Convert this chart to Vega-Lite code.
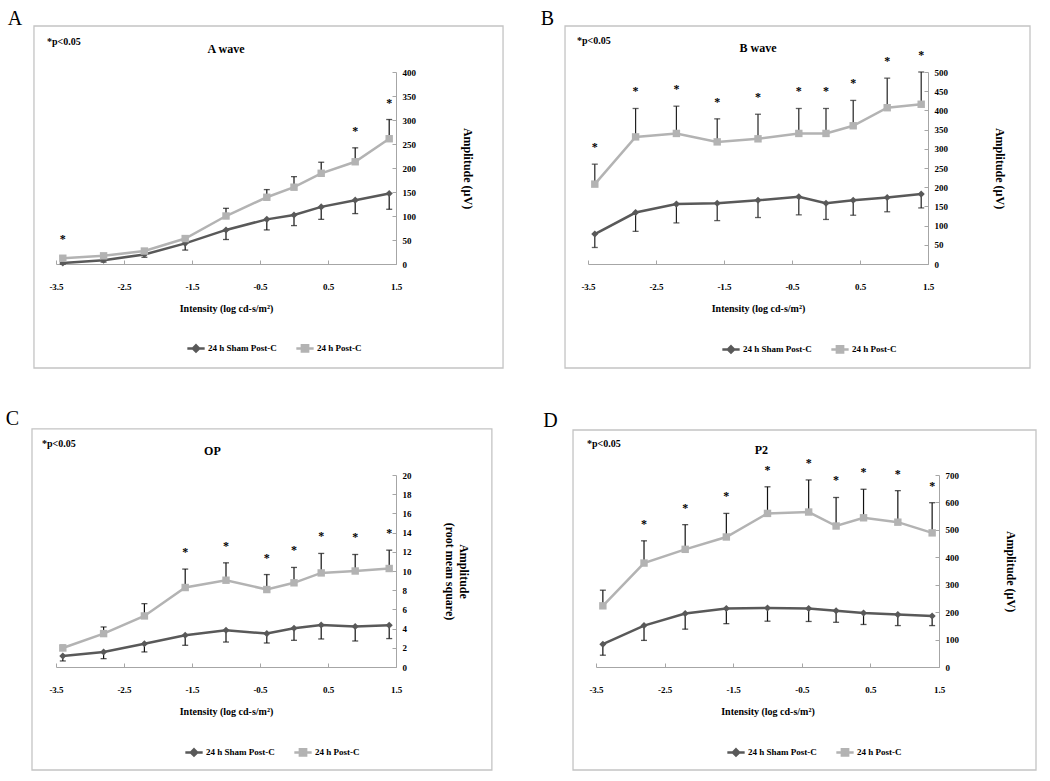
{
  "$schema": "https://vega.github.io/schema/vega-lite/v6.json",
  "padding": {"left": 5, "top": 8, "right": 5, "bottom": 5},
  "background": "white",
  "datasets": {
    "A": [
      {"series": "24 h Sham Post-C", "x": -3.4, "amp": 2, "bar_end": 0, "star": false},
      {"series": "24 h Sham Post-C", "x": -2.8, "amp": 8, "bar_end": 4, "star": false},
      {"series": "24 h Sham Post-C", "x": -2.2, "amp": 20, "bar_end": 14, "star": false},
      {"series": "24 h Sham Post-C", "x": -1.6, "amp": 43, "bar_end": 29, "star": false},
      {"series": "24 h Sham Post-C", "x": -1.0, "amp": 71, "bar_end": 51, "star": false},
      {"series": "24 h Sham Post-C", "x": -0.4, "amp": 93, "bar_end": 71, "star": false},
      {"series": "24 h Sham Post-C", "x": 0, "amp": 102, "bar_end": 80, "star": false},
      {"series": "24 h Sham Post-C", "x": 0.4, "amp": 119, "bar_end": 93, "star": false},
      {"series": "24 h Sham Post-C", "x": 0.9, "amp": 133, "bar_end": 105, "star": false},
      {"series": "24 h Sham Post-C", "x": 1.4, "amp": 147, "bar_end": 114, "star": false},
      {"series": "24 h Post-C", "x": -3.4, "amp": 12, "bar_end": 16, "star": true},
      {"series": "24 h Post-C", "x": -2.8, "amp": 17, "bar_end": 21, "star": false},
      {"series": "24 h Post-C", "x": -2.2, "amp": 27, "bar_end": 32, "star": false},
      {"series": "24 h Post-C", "x": -1.6, "amp": 53, "bar_end": 59, "star": false},
      {"series": "24 h Post-C", "x": -1.0, "amp": 100, "bar_end": 116, "star": false},
      {"series": "24 h Post-C", "x": -0.4, "amp": 139, "bar_end": 155, "star": false},
      {"series": "24 h Post-C", "x": 0, "amp": 160, "bar_end": 182, "star": false},
      {"series": "24 h Post-C", "x": 0.4, "amp": 189, "bar_end": 212, "star": false},
      {"series": "24 h Post-C", "x": 0.9, "amp": 213, "bar_end": 242, "star": true},
      {"series": "24 h Post-C", "x": 1.4, "amp": 261, "bar_end": 301, "star": true}
    ],
    "B": [
      {"series": "24 h Sham Post-C", "x": -3.4, "amp": 78, "bar_end": 43, "star": false},
      {"series": "24 h Sham Post-C", "x": -2.8, "amp": 134, "bar_end": 85, "star": false},
      {"series": "24 h Sham Post-C", "x": -2.2, "amp": 156, "bar_end": 107, "star": false},
      {"series": "24 h Sham Post-C", "x": -1.6, "amp": 158, "bar_end": 113, "star": false},
      {"series": "24 h Sham Post-C", "x": -1.0, "amp": 166, "bar_end": 121, "star": false},
      {"series": "24 h Sham Post-C", "x": -0.4, "amp": 175, "bar_end": 128, "star": false},
      {"series": "24 h Sham Post-C", "x": 0, "amp": 158, "bar_end": 116, "star": false},
      {"series": "24 h Sham Post-C", "x": 0.4, "amp": 166, "bar_end": 127, "star": false},
      {"series": "24 h Sham Post-C", "x": 0.9, "amp": 173, "bar_end": 136, "star": false},
      {"series": "24 h Sham Post-C", "x": 1.4, "amp": 182, "bar_end": 146, "star": false},
      {"series": "24 h Post-C", "x": -3.4, "amp": 208, "bar_end": 260, "star": true},
      {"series": "24 h Post-C", "x": -2.8, "amp": 331, "bar_end": 405, "star": true},
      {"series": "24 h Post-C", "x": -2.2, "amp": 340, "bar_end": 411, "star": true},
      {"series": "24 h Post-C", "x": -1.6, "amp": 318, "bar_end": 378, "star": true},
      {"series": "24 h Post-C", "x": -1.0, "amp": 326, "bar_end": 390, "star": true},
      {"series": "24 h Post-C", "x": -0.4, "amp": 340, "bar_end": 405, "star": true},
      {"series": "24 h Post-C", "x": 0, "amp": 340, "bar_end": 405, "star": true},
      {"series": "24 h Post-C", "x": 0.4, "amp": 360, "bar_end": 426, "star": true},
      {"series": "24 h Post-C", "x": 0.9, "amp": 407, "bar_end": 484, "star": true},
      {"series": "24 h Post-C", "x": 1.4, "amp": 416, "bar_end": 500, "star": true}
    ],
    "C": [
      {"series": "24 h Sham Post-C", "x": -3.4, "amp": 1.15, "bar_end": 0.63, "star": false},
      {"series": "24 h Sham Post-C", "x": -2.8, "amp": 1.57, "bar_end": 0.87, "star": false},
      {"series": "24 h Sham Post-C", "x": -2.2, "amp": 2.43, "bar_end": 1.57, "star": false},
      {"series": "24 h Sham Post-C", "x": -1.6, "amp": 3.3, "bar_end": 2.26, "star": false},
      {"series": "24 h Sham Post-C", "x": -1.0, "amp": 3.83, "bar_end": 2.6, "star": false},
      {"series": "24 h Sham Post-C", "x": -0.4, "amp": 3.48, "bar_end": 2.5, "star": false},
      {"series": "24 h Sham Post-C", "x": 0, "amp": 4.03, "bar_end": 2.78, "star": false},
      {"series": "24 h Sham Post-C", "x": 0.4, "amp": 4.38, "bar_end": 2.92, "star": false},
      {"series": "24 h Sham Post-C", "x": 0.9, "amp": 4.21, "bar_end": 2.71, "star": false},
      {"series": "24 h Sham Post-C", "x": 1.4, "amp": 4.35, "bar_end": 2.96, "star": false},
      {"series": "24 h Post-C", "x": -3.4, "amp": 1.98, "bar_end": 2.26, "star": false},
      {"series": "24 h Post-C", "x": -2.8, "amp": 3.48, "bar_end": 4.17, "star": false},
      {"series": "24 h Post-C", "x": -2.2, "amp": 5.32, "bar_end": 6.6, "star": false},
      {"series": "24 h Post-C", "x": -1.6, "amp": 8.28, "bar_end": 10.2, "star": true},
      {"series": "24 h Post-C", "x": -1.0, "amp": 9.04, "bar_end": 10.85, "star": true},
      {"series": "24 h Post-C", "x": -0.4, "amp": 8.07, "bar_end": 9.63, "star": true},
      {"series": "24 h Post-C", "x": 0, "amp": 8.77, "bar_end": 10.37, "star": true},
      {"series": "24 h Post-C", "x": 0.4, "amp": 9.8, "bar_end": 11.83, "star": true},
      {"series": "24 h Post-C", "x": 0.9, "amp": 10.0, "bar_end": 11.72, "star": true},
      {"series": "24 h Post-C", "x": 1.4, "amp": 10.26, "bar_end": 12.17, "star": true}
    ],
    "D": [
      {"series": "24 h Sham Post-C", "x": -3.4, "amp": 83, "bar_end": 43, "star": false},
      {"series": "24 h Sham Post-C", "x": -2.8, "amp": 151, "bar_end": 97, "star": false},
      {"series": "24 h Sham Post-C", "x": -2.2, "amp": 195, "bar_end": 138, "star": false},
      {"series": "24 h Sham Post-C", "x": -1.6, "amp": 213, "bar_end": 158, "star": false},
      {"series": "24 h Sham Post-C", "x": -1.0, "amp": 215, "bar_end": 167, "star": false},
      {"series": "24 h Sham Post-C", "x": -0.4, "amp": 213, "bar_end": 166, "star": false},
      {"series": "24 h Sham Post-C", "x": 0, "amp": 205, "bar_end": 163, "star": false},
      {"series": "24 h Sham Post-C", "x": 0.4, "amp": 197, "bar_end": 155, "star": false},
      {"series": "24 h Sham Post-C", "x": 0.9, "amp": 191, "bar_end": 151, "star": false},
      {"series": "24 h Sham Post-C", "x": 1.4, "amp": 186, "bar_end": 151, "star": false},
      {"series": "24 h Post-C", "x": -3.4, "amp": 223, "bar_end": 280, "star": false},
      {"series": "24 h Post-C", "x": -2.8, "amp": 379, "bar_end": 460, "star": true},
      {"series": "24 h Post-C", "x": -2.2, "amp": 429, "bar_end": 519, "star": true},
      {"series": "24 h Post-C", "x": -1.6, "amp": 474, "bar_end": 560, "star": true},
      {"series": "24 h Post-C", "x": -1.0, "amp": 560, "bar_end": 657, "star": true},
      {"series": "24 h Post-C", "x": -0.4, "amp": 565, "bar_end": 682, "star": true},
      {"series": "24 h Post-C", "x": 0, "amp": 514, "bar_end": 618, "star": true},
      {"series": "24 h Post-C", "x": 0.4, "amp": 544, "bar_end": 648, "star": true},
      {"series": "24 h Post-C", "x": 0.9, "amp": 528, "bar_end": 643, "star": true},
      {"series": "24 h Post-C", "x": 1.4, "amp": 489, "bar_end": 599, "star": true}
    ]
  },
  "spacing": 403,
  "bounds": "flush",
  "resolve": {"scale": {"color": "independent"}, "legend": {"color": "independent"}},
  "vconcat": [
    {
      "spacing": 192,
      "bounds": "flush",
      "resolve": {"scale": {"color": "independent"}, "legend": {"color": "independent"}},
      "hconcat": [
        {
          "width": 340, "height": 192,
          "data": {"name": "A"},
          "layer": [
            {"data": {"values": [{"part": "frame"}]}, "mark": {"type": "rect", "fill": null, "stroke": "#c4c4c4", "strokeWidth": 1.3},
             "encoding": {"x": {"datum": -3.824, "type": "quantitative"}, "x2": {"datum": 3.074}, "y": {"datum": 495.8, "type": "quantitative"}, "y2": {"datum": -216.7}}},
            {"mark": {"type": "rule", "color": "#111111", "strokeWidth": 1.2},
             "encoding": {"x": {"field": "x", "type": "quantitative"}, "y": {"field": "amp", "type": "quantitative"}, "y2": {"field": "bar_end"}}},
            {"mark": {"type": "tick", "orient": "horizontal", "color": "#111111", "size": 6, "thickness": 1.3},
             "encoding": {"x": {"field": "x", "type": "quantitative"}, "y": {"field": "bar_end", "type": "quantitative"}}},
            {"mark": {"type": "line", "strokeWidth": 2.5},
             "encoding": {
               "x": {"field": "x", "type": "quantitative", "scale": {"domain": [-3.5, 1.5], "nice": false, "zero": false},
                     "axis": {"values": [-3.5, -2.5, -1.5, -0.5, 0.5, 1.5], "tickCount": 20, "format": ".1f", "labelExpr": "replace(datum.label, '\u2212', '-')", "title": "Intensity (log cd-s/m²)"}},
               "y": {"field": "amp", "type": "quantitative", "scale": {"domain": [0, 400], "nice": false, "zero": false},
                     "axis": {"orient": "right", "values": [0, 50, 100, 150, 200, 250, 300, 350, 400], "tickCount": 20, "format": "d", "title": "Amplitude (µV)", "labelBaseline": "middle"}},
               "color": {"field": "series", "type": "nominal", "scale": {"domain": ["24 h Sham Post-C", "24 h Post-C"], "range": ["#595959", "#b3b3b3"]},
                         "legend": {"orient": "none", "legendX": 130, "legendY": 266, "direction": "horizontal", "title": null, "symbolSize": 300, "columnPadding": 14, "labelOffset": 2,
                                    "labelFont": "Liberation Serif", "labelFontWeight": "bold", "labelFontSize": 9,
                                    "encode": {"symbols": {"update": {
                                      "shape": {"signal": "datum.value === '24 h Sham Post-C' ? 'M-1,0H1M0,-0.36L0.36,0L0,0.36L-0.36,0Z' : 'M-1,0H1M-0.36,-0.36H0.36V0.36H-0.36Z'"},
                                      "fill": {"signal": "datum.value === '24 h Sham Post-C' ? '#595959' : '#b3b3b3'"},
                                      "stroke": {"signal": "datum.value === '24 h Sham Post-C' ? '#595959' : '#b3b3b3'"},
                                      "strokeWidth": {"value": 2.5}, "opacity": {"value": 1}, "fillOpacity": {"value": 1}}}}}}
             }},
            {"transform": [{"filter": "datum.series === '24 h Sham Post-C'"}], "mark": {"type": "point", "shape": "diamond", "filled": true, "opacity": 1, "size": 50},
             "encoding": {"x": {"field": "x", "type": "quantitative"}, "y": {"field": "amp", "type": "quantitative"}, "color": {"field": "series", "type": "nominal"}}},
            {"transform": [{"filter": "datum.series === '24 h Post-C'"}], "mark": {"type": "point", "shape": "square", "filled": true, "opacity": 1, "size": 55},
             "encoding": {"x": {"field": "x", "type": "quantitative"}, "y": {"field": "amp", "type": "quantitative"}, "color": {"field": "series", "type": "nominal"}}},
            {"transform": [{"filter": "datum.star"}], "mark": {"type": "text", "text": "*", "dy": -17, "baseline": "middle", "fontSize": 12, "fontWeight": "bold", "font": "Liberation Serif", "color": "#000000"},
             "encoding": {"x": {"field": "x", "type": "quantitative"}, "y": {"field": "bar_end", "type": "quantitative"}}},
            {"data": {"values": [{"label": "A"}]}, "mark": {"type": "text", "fontSize": 20, "font": "Liberation Serif", "align": "center", "baseline": "alphabetic", "color": "#000000"},
             "encoding": {"x": {"datum": -4.103, "type": "quantitative"}, "y": {"datum": 498, "type": "quantitative"}, "text": {"field": "label"}}},
            {"data": {"values": [{"label": "*p<0.05"}]}, "mark": {"type": "text", "fontSize": 10, "fontWeight": "bold", "font": "Liberation Serif", "align": "left", "baseline": "alphabetic", "color": "#000000"},
             "encoding": {"x": {"datum": -3.632, "type": "quantitative"}, "y": {"datum": 456, "type": "quantitative"}, "text": {"field": "label"}}},
            {"data": {"values": [{"label": "A wave"}]}, "mark": {"type": "text", "fontSize": 12, "fontWeight": "bold", "font": "Liberation Serif", "align": "center", "baseline": "alphabetic", "color": "#000000"},
             "encoding": {"x": {"datum": -1.0, "type": "quantitative"}, "y": {"datum": 440, "type": "quantitative"}, "text": {"field": "label"}}}
          ]
        },
        {
          "width": 340, "height": 192,
          "data": {"name": "B"},
          "layer": [
            {"data": {"values": [{"part": "frame"}]}, "mark": {"type": "rect", "fill": null, "stroke": "#c4c4c4", "strokeWidth": 1.3},
             "encoding": {"x": {"datum": -3.838, "type": "quantitative"}, "x2": {"datum": 3.0}, "y": {"datum": 619.8, "type": "quantitative"}, "y2": {"datum": -270.8}}},
            {"mark": {"type": "rule", "color": "#222222", "strokeWidth": 1.2},
             "encoding": {"x": {"field": "x", "type": "quantitative"}, "y": {"field": "amp", "type": "quantitative"}, "y2": {"field": "bar_end"}}},
            {"mark": {"type": "tick", "orient": "horizontal", "color": "#222222", "size": 6, "thickness": 1.3},
             "encoding": {"x": {"field": "x", "type": "quantitative"}, "y": {"field": "bar_end", "type": "quantitative"}}},
            {"mark": {"type": "line", "strokeWidth": 2.5},
             "encoding": {
               "x": {"field": "x", "type": "quantitative", "scale": {"domain": [-3.5, 1.5], "nice": false, "zero": false},
                     "axis": {"values": [-3.5, -2.5, -1.5, -0.5, 0.5, 1.5], "tickCount": 20, "format": ".1f", "labelExpr": "replace(datum.label, '\u2212', '-')", "title": "Intensity (log cd-s/m²)"}},
               "y": {"field": "amp", "type": "quantitative", "scale": {"domain": [0, 500], "nice": false, "zero": false},
                     "axis": {"orient": "right", "values": [0, 50, 100, 150, 200, 250, 300, 350, 400, 450, 500], "tickCount": 20, "format": "d", "title": "Amplitude (µV)", "labelBaseline": "middle"}},
               "color": {"field": "series", "type": "nominal", "scale": {"domain": ["24 h Sham Post-C", "24 h Post-C"], "range": ["#595959", "#b3b3b3"]},
                         "legend": {"orient": "none", "legendX": 133, "legendY": 267, "direction": "horizontal", "title": null, "symbolSize": 300, "columnPadding": 14, "labelOffset": 2,
                                    "labelFont": "Liberation Serif", "labelFontWeight": "bold", "labelFontSize": 9,
                                    "encode": {"symbols": {"update": {
                                      "shape": {"signal": "datum.value === '24 h Sham Post-C' ? 'M-1,0H1M0,-0.36L0.36,0L0,0.36L-0.36,0Z' : 'M-1,0H1M-0.36,-0.36H0.36V0.36H-0.36Z'"},
                                      "fill": {"signal": "datum.value === '24 h Sham Post-C' ? '#595959' : '#b3b3b3'"},
                                      "stroke": {"signal": "datum.value === '24 h Sham Post-C' ? '#595959' : '#b3b3b3'"},
                                      "strokeWidth": {"value": 2.5}, "opacity": {"value": 1}, "fillOpacity": {"value": 1}}}}}}
             }},
            {"transform": [{"filter": "datum.series === '24 h Sham Post-C'"}], "mark": {"type": "point", "shape": "diamond", "filled": true, "opacity": 1, "size": 50},
             "encoding": {"x": {"field": "x", "type": "quantitative"}, "y": {"field": "amp", "type": "quantitative"}, "color": {"field": "series", "type": "nominal"}}},
            {"transform": [{"filter": "datum.series === '24 h Post-C'"}], "mark": {"type": "point", "shape": "square", "filled": true, "opacity": 1, "size": 55},
             "encoding": {"x": {"field": "x", "type": "quantitative"}, "y": {"field": "amp", "type": "quantitative"}, "color": {"field": "series", "type": "nominal"}}},
            {"transform": [{"filter": "datum.star"}], "mark": {"type": "text", "text": "*", "dy": -17, "baseline": "middle", "fontSize": 12, "fontWeight": "bold", "font": "Liberation Serif", "color": "#000000"},
             "encoding": {"x": {"field": "x", "type": "quantitative"}, "y": {"field": "bar_end", "type": "quantitative"}}},
            {"data": {"values": [{"label": "B"}]}, "mark": {"type": "text", "fontSize": 20, "font": "Liberation Serif", "align": "center", "baseline": "alphabetic", "color": "#000000"},
             "encoding": {"x": {"datum": -4.096, "type": "quantitative"}, "y": {"datum": 622, "type": "quantitative"}, "text": {"field": "label"}}},
            {"data": {"values": [{"label": "*p<0.05"}]}, "mark": {"type": "text", "fontSize": 10, "fontWeight": "bold", "font": "Liberation Serif", "align": "left", "baseline": "alphabetic", "color": "#000000"},
             "encoding": {"x": {"datum": -3.662, "type": "quantitative"}, "y": {"datum": 573, "type": "quantitative"}, "text": {"field": "label"}}},
            {"data": {"values": [{"label": "B wave"}]}, "mark": {"type": "text", "fontSize": 12, "fontWeight": "bold", "font": "Liberation Serif", "align": "center", "baseline": "alphabetic", "color": "#000000"},
             "encoding": {"x": {"datum": -1.0, "type": "quantitative"}, "y": {"datum": 552, "type": "quantitative"}, "text": {"field": "label"}}}
          ]
        }
      ]
    },
    {
      "spacing": 200,
      "bounds": "flush",
      "resolve": {"scale": {"color": "independent"}, "legend": {"color": "independent"}},
      "hconcat": [
        {
          "width": 340, "height": 192,
          "data": {"name": "C"},
          "layer": [
            {"data": {"values": [{"part": "frame"}]}, "mark": {"type": "rect", "fill": null, "stroke": "#c4c4c4", "strokeWidth": 1.3},
             "encoding": {"x": {"datum": -3.853, "type": "quantitative"}, "x2": {"datum": 2.91}, "y": {"datum": 24.8, "type": "quantitative"}, "y2": {"datum": -10.73}}},
            {"mark": {"type": "rule", "color": "#111111", "strokeWidth": 1.2},
             "encoding": {"x": {"field": "x", "type": "quantitative"}, "y": {"field": "amp", "type": "quantitative"}, "y2": {"field": "bar_end"}}},
            {"mark": {"type": "tick", "orient": "horizontal", "color": "#111111", "size": 6, "thickness": 1.3},
             "encoding": {"x": {"field": "x", "type": "quantitative"}, "y": {"field": "bar_end", "type": "quantitative"}}},
            {"mark": {"type": "line", "strokeWidth": 2.5},
             "encoding": {
               "x": {"field": "x", "type": "quantitative", "scale": {"domain": [-3.5, 1.5], "nice": false, "zero": false},
                     "axis": {"values": [-3.5, -2.5, -1.5, -0.5, 0.5, 1.5], "tickCount": 20, "format": ".1f", "labelExpr": "replace(datum.label, '\u2212', '-')", "title": "Intensity (log cd-s/m²)"}},
               "y": {"field": "amp", "type": "quantitative", "scale": {"domain": [0, 20], "nice": false, "zero": false},
                     "axis": {"orient": "right", "values": [0, 2, 4, 6, 8, 10, 12, 14, 16, 18, 20], "tickCount": 20, "format": "d", "title": ["Amplitude", "(root mean square)"], "titlePadding": 31, "labelBaseline": "middle"}},
               "color": {"field": "series", "type": "nominal", "scale": {"domain": ["24 h Sham Post-C", "24 h Post-C"], "range": ["#595959", "#b3b3b3"]},
                         "legend": {"orient": "none", "legendX": 128, "legendY": 267, "direction": "horizontal", "title": null, "symbolSize": 300, "columnPadding": 14, "labelOffset": 2,
                                    "labelFont": "Liberation Serif", "labelFontWeight": "bold", "labelFontSize": 9,
                                    "encode": {"symbols": {"update": {
                                      "shape": {"signal": "datum.value === '24 h Sham Post-C' ? 'M-1,0H1M0,-0.36L0.36,0L0,0.36L-0.36,0Z' : 'M-1,0H1M-0.36,-0.36H0.36V0.36H-0.36Z'"},
                                      "fill": {"signal": "datum.value === '24 h Sham Post-C' ? '#595959' : '#b3b3b3'"},
                                      "stroke": {"signal": "datum.value === '24 h Sham Post-C' ? '#595959' : '#b3b3b3'"},
                                      "strokeWidth": {"value": 2.5}, "opacity": {"value": 1}, "fillOpacity": {"value": 1}}}}}}
             }},
            {"transform": [{"filter": "datum.series === '24 h Sham Post-C'"}], "mark": {"type": "point", "shape": "diamond", "filled": true, "opacity": 1, "size": 50},
             "encoding": {"x": {"field": "x", "type": "quantitative"}, "y": {"field": "amp", "type": "quantitative"}, "color": {"field": "series", "type": "nominal"}}},
            {"transform": [{"filter": "datum.series === '24 h Post-C'"}], "mark": {"type": "point", "shape": "square", "filled": true, "opacity": 1, "size": 55},
             "encoding": {"x": {"field": "x", "type": "quantitative"}, "y": {"field": "amp", "type": "quantitative"}, "color": {"field": "series", "type": "nominal"}}},
            {"transform": [{"filter": "datum.star"}], "mark": {"type": "text", "text": "*", "dy": -17, "baseline": "middle", "fontSize": 12, "fontWeight": "bold", "font": "Liberation Serif", "color": "#000000"},
             "encoding": {"x": {"field": "x", "type": "quantitative"}, "y": {"field": "bar_end", "type": "quantitative"}}},
            {"data": {"values": [{"label": "C"}]}, "mark": {"type": "text", "fontSize": 20, "font": "Liberation Serif", "align": "center", "baseline": "alphabetic", "color": "#000000"},
             "encoding": {"x": {"datum": -4.14, "type": "quantitative"}, "y": {"datum": 25.2, "type": "quantitative"}, "text": {"field": "label"}}},
            {"data": {"values": [{"label": "*p<0.05"}]}, "mark": {"type": "text", "fontSize": 10, "fontWeight": "bold", "font": "Liberation Serif", "align": "left", "baseline": "alphabetic", "color": "#000000"},
             "encoding": {"x": {"datum": -3.706, "type": "quantitative"}, "y": {"datum": 22.9, "type": "quantitative"}, "text": {"field": "label"}}},
            {"data": {"values": [{"label": "OP"}]}, "mark": {"type": "text", "fontSize": 12, "fontWeight": "bold", "font": "Liberation Serif", "align": "center", "baseline": "alphabetic", "color": "#000000"},
             "encoding": {"x": {"datum": -1.2, "type": "quantitative"}, "y": {"datum": 22.1, "type": "quantitative"}, "text": {"field": "label"}}}
          ]
        },
        {
          "width": 343, "height": 192,
          "data": {"name": "D"},
          "layer": [
            {"data": {"values": [{"part": "frame"}]}, "mark": {"type": "rect", "fill": null, "stroke": "#c4c4c4", "strokeWidth": 1.3},
             "encoding": {"x": {"datum": -3.835, "type": "quantitative"}, "x2": {"datum": 2.914}, "y": {"datum": 864, "type": "quantitative"}, "y2": {"datum": -375.5}}},
            {"mark": {"type": "rule", "color": "#111111", "strokeWidth": 1.2},
             "encoding": {"x": {"field": "x", "type": "quantitative"}, "y": {"field": "amp", "type": "quantitative"}, "y2": {"field": "bar_end"}}},
            {"mark": {"type": "tick", "orient": "horizontal", "color": "#111111", "size": 6, "thickness": 1.3},
             "encoding": {"x": {"field": "x", "type": "quantitative"}, "y": {"field": "bar_end", "type": "quantitative"}}},
            {"mark": {"type": "line", "strokeWidth": 2.5},
             "encoding": {
               "x": {"field": "x", "type": "quantitative", "scale": {"domain": [-3.5, 1.5], "nice": false, "zero": false},
                     "axis": {"values": [-3.5, -2.5, -1.5, -0.5, 0.5, 1.5], "tickCount": 20, "format": ".1f", "labelExpr": "replace(datum.label, '\u2212', '-')", "title": "Intensity (log cd-s/m²)"}},
               "y": {"field": "amp", "type": "quantitative", "scale": {"domain": [0, 700], "nice": false, "zero": false},
                     "axis": {"orient": "right", "values": [0, 100, 200, 300, 400, 500, 600, 700], "tickCount": 20, "format": "d", "title": "Amplitude (µV)", "labelBaseline": "middle"}},
               "color": {"field": "series", "type": "nominal", "scale": {"domain": ["24 h Sham Post-C", "24 h Post-C"], "range": ["#595959", "#b3b3b3"]},
                         "legend": {"orient": "none", "legendX": 130, "legendY": 267, "direction": "horizontal", "title": null, "symbolSize": 300, "columnPadding": 14, "labelOffset": 2,
                                    "labelFont": "Liberation Serif", "labelFontWeight": "bold", "labelFontSize": 9,
                                    "encode": {"symbols": {"update": {
                                      "shape": {"signal": "datum.value === '24 h Sham Post-C' ? 'M-1,0H1M0,-0.36L0.36,0L0,0.36L-0.36,0Z' : 'M-1,0H1M-0.36,-0.36H0.36V0.36H-0.36Z'"},
                                      "fill": {"signal": "datum.value === '24 h Sham Post-C' ? '#595959' : '#b3b3b3'"},
                                      "stroke": {"signal": "datum.value === '24 h Sham Post-C' ? '#595959' : '#b3b3b3'"},
                                      "strokeWidth": {"value": 2.5}, "opacity": {"value": 1}, "fillOpacity": {"value": 1}}}}}}
             }},
            {"transform": [{"filter": "datum.series === '24 h Sham Post-C'"}], "mark": {"type": "point", "shape": "diamond", "filled": true, "opacity": 1, "size": 50},
             "encoding": {"x": {"field": "x", "type": "quantitative"}, "y": {"field": "amp", "type": "quantitative"}, "color": {"field": "series", "type": "nominal"}}},
            {"transform": [{"filter": "datum.series === '24 h Post-C'"}], "mark": {"type": "point", "shape": "square", "filled": true, "opacity": 1, "size": 55},
             "encoding": {"x": {"field": "x", "type": "quantitative"}, "y": {"field": "amp", "type": "quantitative"}, "color": {"field": "series", "type": "nominal"}}},
            {"transform": [{"filter": "datum.star"}], "mark": {"type": "text", "text": "*", "dy": -17, "baseline": "middle", "fontSize": 12, "fontWeight": "bold", "font": "Liberation Serif", "color": "#000000"},
             "encoding": {"x": {"field": "x", "type": "quantitative"}, "y": {"field": "bar_end", "type": "quantitative"}}},
            {"data": {"values": [{"label": "D"}]}, "mark": {"type": "text", "fontSize": 20, "font": "Liberation Serif", "align": "center", "baseline": "alphabetic", "color": "#000000"},
             "encoding": {"x": {"datum": -4.163, "type": "quantitative"}, "y": {"datum": 875, "type": "quantitative"}, "text": {"field": "label"}}},
            {"data": {"values": [{"label": "*p<0.05"}]}, "mark": {"type": "text", "fontSize": 10, "fontWeight": "bold", "font": "Liberation Serif", "align": "left", "baseline": "alphabetic", "color": "#000000"},
             "encoding": {"x": {"datum": -3.631, "type": "quantitative"}, "y": {"datum": 802, "type": "quantitative"}, "text": {"field": "label"}}},
            {"data": {"values": [{"label": "P2"}]}, "mark": {"type": "text", "fontSize": 12, "fontWeight": "bold", "font": "Liberation Serif", "align": "center", "baseline": "alphabetic", "color": "#000000"},
             "encoding": {"x": {"datum": -1.088, "type": "quantitative"}, "y": {"datum": 776, "type": "quantitative"}, "text": {"field": "label"}}}
          ]
        }
      ]
    }
  ],
  "config": {
    "view": {"stroke": null},
    "font": "Liberation Serif",
    "axis": {
      "grid": false, "domainColor": "#a6a6a6", "tickColor": "#a6a6a6", "domainWidth": 1, "tickWidth": 1, "tickSize": -4,
      "labelFont": "Liberation Serif", "labelFontWeight": "bold", "labelFontSize": 9, "labelColor": "#000000", "labelFlush": false, "labelOverlap": false,
      "titleFont": "Liberation Serif", "titleFontWeight": "bold", "titleColor": "#000000"
    },
    "axisX": {"labelPadding": 22, "titlePadding": 12, "titleFontSize": 10},
    "axisY": {"labelPadding": 10, "titleFontSize": 12, "titlePadding": 45, "labelAlign": "left"}
  }
}
